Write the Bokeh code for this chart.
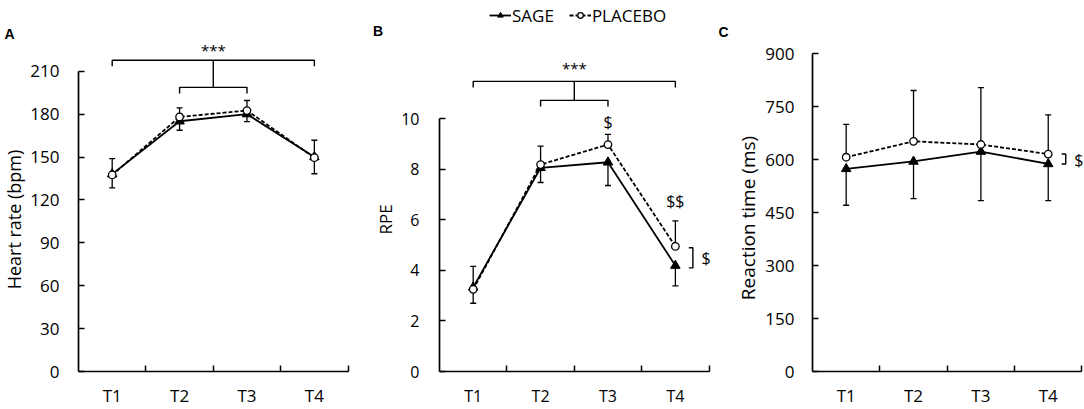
import math
from bokeh.plotting import figure
from bokeh.models import (Range1d, FixedTicker, Whisker, TeeHead, ColumnDataSource,
                          Legend, LegendItem)
from bokeh.layouts import row
from bokeh.core.properties import value
from bokeh.embed import file_html
from bokeh.resources import INLINE

# ---------------- data ----------------
categories = ["T1", "T2", "T3", "T4"]
x_pos = [1, 2, 3, 4]

hr_sage = [138.0, 175.0, 180.0, 150.0]
hr_sage_sd = [9.6, 6.3, 5.2, 11.7]
hr_placebo = [137.5, 178.0, 182.5, 149.5]
hr_placebo_sd = [11.3, 6.4, 7.0, 12.2]

rpe_sage = [3.33, 8.06, 8.28, 4.19]
rpe_sage_sd = [0.63, 0.58, 0.92, 0.80]
rpe_placebo = [3.25, 8.19, 8.98, 4.95]
rpe_placebo_sd = [0.91, 0.73, 0.40, 1.01]

rt_sage = [574, 595, 623, 588]
rt_sage_sd = [103, 105, 139, 104]
rt_placebo = [607, 652, 643, 616]
rt_placebo_sd = [93, 144, 161, 111]

hr_ticks = [0, 30, 60, 90, 120, 150, 180, 210]
rpe_ticks = [0, 2, 4, 6, 8, 10]
rt_ticks = [0, 150, 300, 450, 600, 750, 900]

y_titles = ["Heart rate (bpm)", "RPE", "Reaction time (ms)"]
panel_letters = ["A", "B", "C"]
legend_labels = ["SAGE", "PLACEBO"]

# significance annotations (data units)
hr_outer_y, hr_inner_y, hr_tip, hr_star_y = 217.7, 198.7, 4.3, 224.8
rpe_outer_y, rpe_inner_y, rpe_tip, rpe_star_y = 11.48, 10.73, 0.24, 12.03
rpe_dollar_t3_y, rpe_dollar_t4_y = 9.89, 6.76
rpe_br_lo, rpe_br_hi, rpe_br_label_y = 4.10, 4.90, 4.50
rt_br_lo, rt_br_hi, rt_br_label_y = 588, 616, 598

FONT = "Open Sans"
LETTER_FONT = "Liberation Sans"
FIG_H = 409
FRAME_BOTTOM = 371          # page pixel row of every x axis
PX_X = 67.6                 # pixels per category


class Geom:
    """pixel <-> data helper for one panel (page pixels, left-to-right / top-down)."""
    def __init__(self, fig_left, width, frame_left, px_y):
        self.fig_left, self.width, self.frame_left, self.px_y = fig_left, width, frame_left, px_y

    def x(self, page_x):
        return 0.5 + (page_x - self.frame_left) / PX_X

    def y(self, page_y):
        return (FRAME_BOTTOM - page_y) / self.px_y


def make_panel(g, ticks, ytick_font, xtick_font, ylab_standoff, xlab_standoff):
    p = figure(width=g.width, height=FIG_H,
               x_range=Range1d(0.5, g.x(g.fig_left + g.width)),
               y_range=Range1d(0, g.y(0)),
               output_backend="svg", toolbar_location=None,
               min_border_left=g.frame_left - g.fig_left, min_border_right=0,
               min_border_top=0, min_border_bottom=FIG_H - FRAME_BOTTOM)
    p.outline_line_color = None
    p.grid.visible = False

    xa = p.xaxis[0]
    xa.ticker = FixedTicker(ticks=x_pos, minor_ticks=[x + 0.5 for x in x_pos])
    xa.major_label_overrides = {x: c for x, c in zip(x_pos, categories)}
    xa.bounds = (0.5, 4.5)
    xa.major_tick_in = 0
    xa.major_tick_out = 0
    xa.minor_tick_in = 6
    xa.minor_tick_out = 0
    xa.minor_tick_line_width = 1.5
    xa.minor_tick_line_color = "black"
    xa.axis_line_width = 1.7
    xa.axis_line_color = "black"
    xa.major_label_text_font = FONT
    xa.major_label_text_font_size = xtick_font
    xa.major_label_text_color = "black"
    xa.major_label_standoff = xlab_standoff

    ya = p.yaxis[0]
    ya.ticker = FixedTicker(ticks=ticks)
    ya.bounds = (0, ticks[-1])
    ya.major_tick_in = 6
    ya.major_tick_out = 0
    ya.major_tick_line_width = 1.5
    ya.major_tick_line_color = "black"
    ya.minor_tick_line_color = None
    ya.axis_line_width = 1.7
    ya.axis_line_color = "black"
    ya.major_label_text_font = FONT
    ya.major_label_text_font_size = ytick_font
    ya.major_label_text_color = "black"
    ya.major_label_standoff = ylab_standoff
    return p


def draw_series(p, sage, sage_sd, placebo, placebo_sd):
    src_s = ColumnDataSource(dict(x=x_pos, y=sage,
                                  lo=[v - e for v, e in zip(sage, sage_sd)]))
    src_p = ColumnDataSource(dict(x=x_pos, y=placebo,
                                  up=[v + e for v, e in zip(placebo, placebo_sd)]))
    p.add_layout(Whisker(source=src_s, base="x", upper="y", lower="lo", dimension="height",
                         line_width=1.3, line_color="black", upper_head=None,
                         lower_head=TeeHead(size=6, line_width=1.3, line_color="black")))
    p.add_layout(Whisker(source=src_p, base="x", upper="up", lower="y", dimension="height",
                         line_width=1.3, line_color="black", lower_head=None,
                         upper_head=TeeHead(size=6, line_width=1.3, line_color="black")))
    ls = p.line("x", "y", source=src_s, line_color="black", line_width=1.8)
    ms = p.scatter("x", "y", source=src_s, marker="triangle", size=9.5,
                   fill_color="black", line_color="black")
    lp = p.line("x", "y", source=src_p, line_color="black", line_width=1.8, line_dash="4 2")
    mp = p.scatter("x", "y", source=src_p, marker="circle", size=7.5,
                   fill_color="white", line_color="black", line_width=1.3)
    return ls, ms, lp, mp


def bracket(p, x0, x1, y, tip):
    p.line([x0, x0, x1, x1], [y - tip, y, y, y - tip], line_color="black", line_width=1.4)


def sig_tree(p, outer_y, inner_y, tip, star_y):
    bracket(p, x_pos[0], x_pos[3], outer_y, tip)
    bracket(p, x_pos[1], x_pos[2], inner_y, tip)
    mid = (x_pos[0] + x_pos[3]) / 2
    p.line([mid, mid], [inner_y, outer_y], line_color="black", line_width=1.4)
    p.text(x=[mid], y=[star_y], text=["***"], text_font=value(FONT), text_font_size="15px",
           text_align="center", text_baseline="middle", text_color="black")


def side_bracket(p, lo, hi, label_y):
    x0, x1 = x_pos[3] + 0.2, x_pos[3] + 0.26
    p.line([x0, x1, x1, x0], [hi, hi, lo, lo], line_color="black", line_width=1.4)
    p.text(x=[x_pos[3] + 0.455], y=[label_y], text=["$"], text_font=value(FONT),
           text_font_size="16px", text_align="center", text_baseline="middle", text_color="black")


def letter(p, x, y, t):
    p.text(x=[x], y=[y], text=[t], text_font=value(LETTER_FONT), text_font_style="bold",
           text_font_size="14px", text_align="center", text_baseline="middle",
           text_color="black")


def y_title(p, x, y, t, size):
    p.text(x=[x], y=[y], text=[t], angle=math.pi / 2, text_font=value(FONT),
           text_font_size=size, text_align="center", text_baseline="middle",
           text_color="black")


# ---------------- geometry (page pixels) ----------------
g0 = Geom(0, 27, 0, 1.0)
gA = Geom(27, 371, 77, (FRAME_BOTTOM - 70.7) / 210)
gB = Geom(398, 364, 438, (FRAME_BOTTOM - 118.3) / 10)
gC = Geom(762, 322, 811, (FRAME_BOTTOM - 53.3) / 900)

# ---------------- strip holding the first letter and y title ----------------
p0 = figure(width=g0.width, height=FIG_H, x_range=Range1d(0, g0.width),
            y_range=Range1d(0, FRAME_BOTTOM), x_axis_type=None, y_axis_type=None,
            output_backend="svg", toolbar_location=None,
            min_border_left=0, min_border_right=0, min_border_top=0,
            min_border_bottom=FIG_H - FRAME_BOTTOM)
p0.outline_line_color = None
letter(p0, 9, FRAME_BOTTOM - 33, panel_letters[0])
y_title(p0, 13.5, FRAME_BOTTOM - 219, y_titles[0], "18px")

# ---------------- Panel A ----------------
pa = make_panel(gA, hr_ticks, "17px", "17px", 19, 12)
draw_series(pa, hr_sage, hr_sage_sd, hr_placebo, hr_placebo_sd)
sig_tree(pa, hr_outer_y, hr_inner_y, hr_tip, hr_star_y)
letter(pa, gA.x(377.5), gA.y(30), panel_letters[1])
y_title(pa, gA.x(385), gA.y(219), y_titles[1], "17px")

# ---------------- Panel B ----------------
pb = make_panel(gB, rpe_ticks, "16px", "16px", 20, 13)
ls, ms, lp, mp = draw_series(pb, rpe_sage, rpe_sage_sd, rpe_placebo, rpe_placebo_sd)
sig_tree(pb, rpe_outer_y, rpe_inner_y, rpe_tip, rpe_star_y)
pb.text(x=[x_pos[2], x_pos[3]], y=[rpe_dollar_t3_y, rpe_dollar_t4_y], text=["$", "$$"],
        text_font=value(FONT), text_font_size="16px", text_align="center",
        text_baseline="middle", text_color="black")
side_bracket(pb, rpe_br_lo, rpe_br_hi, rpe_br_label_y)
letter(pb, gB.x(723), gB.y(31), panel_letters[2])
y_title(pb, gB.x(747.5), gB.y(217.5), y_titles[2], "19px")

legend = Legend(items=[LegendItem(label=legend_labels[0], renderers=[ls, ms]),
                       LegendItem(label=legend_labels[1], renderers=[lp, mp])],
                orientation="horizontal",
                location=(488 - gB.frame_left, FRAME_BOTTOM - 26.5),
                padding=0, margin=0, spacing=15, glyph_width=22, glyph_height=14,
                label_height=14, label_standoff=1,
                label_text_font=FONT, label_text_font_size="17px", label_text_color="black",
                border_line_color=None, background_fill_alpha=0)
pb.add_layout(legend)

# ---------------- Panel C ----------------
pc = make_panel(gC, rt_ticks, "17px", "17px", 18, 12)
draw_series(pc, rt_sage, rt_sage_sd, rt_placebo, rt_placebo_sd)
side_bracket(pc, rt_br_lo, rt_br_hi, rt_br_label_y)

layout = row(p0, pa, pb, pc)
open("out.html", "w").write(file_html(layout, INLINE))
